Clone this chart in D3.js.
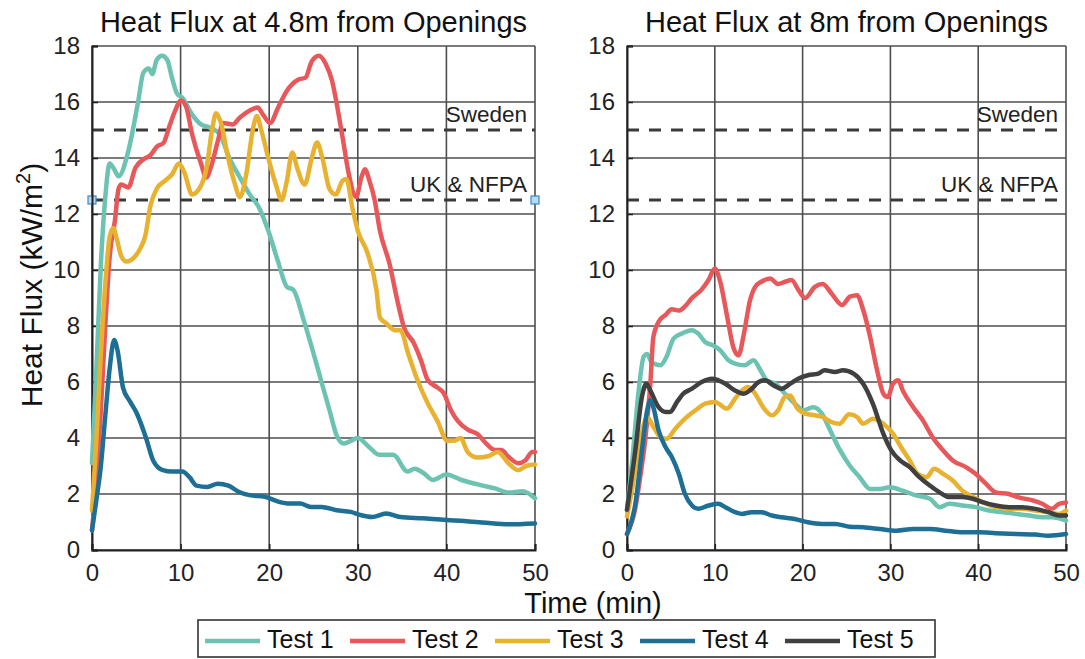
<!DOCTYPE html>
<html>
<head>
<meta charset="utf-8">
<script src="https://cdn.jsdelivr.net/npm/d3@7"></script>
<style>
  body { margin: 0; background: #fff; }
  svg { display: block; font-family: "Liberation Sans", Arial, sans-serif; }
</style>
</head>
<body>
<svg width="1085" height="659"></svg>
<script>
// values, [time (min), heat flux (kW/m2)]
const timeTicks = [0, 10, 20, 30, 40, 50];
const fluxTicks = [0, 2, 4, 6, 8, 10, 12, 14, 16, 18];
const testNames = ['Test 1', 'Test 2', 'Test 3', 'Test 4', 'Test 5'];
const testColors = ['#6cc3b1', '#e8585b', '#e8b130', '#1e6f96', '#404040'];
const limitLabels = ['Sweden', 'UK & NFPA'];
const limitValues = [15, 12.5];
const panelTitles = ['Heat Flux at 4.8m from Openings', 'Heat Flux at 8m from Openings'];

// 4.8 m
const t1At48 = [[0,3.1],[0.5,6.5],[1,10.2],[1.5,12.6],[2,13.8],[2.5,13.6],[3,13.35],[4.1,14.25],[5.2,16.0],[5.8,17.05],[6.4,17.2],[6.8,17.0],[7.3,17.5],[7.9,17.65],[8.5,17.5],[9.0,16.9],[9.6,16.3],[10.2,16.15],[11.3,15.55],[12.3,15.2],[13.2,15.1],[14.4,14.85],[15.5,14.0],[16.7,13.3],[17.8,12.7],[18.9,12.2],[19.9,11.4],[21,10.3],[22,9.4],[22.7,9.3],[23.9,8.2],[25.2,6.8],[25.9,6.0],[26.8,5.0],[27.6,4.1],[28.4,3.8],[29.2,3.9],[30,4.0],[31.2,3.7],[32.4,3.4],[34,3.4],[35.6,2.8],[36.4,2.9],[37.4,2.75],[38.5,2.5],[40,2.7],[41.7,2.5],[44.1,2.3],[45.5,2.2],[47,2.05],[48.6,2.1],[50,1.85]];
const t2At48 = [[0,0.7],[0.5,2.5],[1,5],[1.5,8],[2,10.5],[2.6,11.8],[3,12.9],[3.3,13.05],[4.1,12.95],[4.9,13.65],[5.8,13.95],[6.6,14.1],[7.3,14.4],[8.1,14.55],[8.7,15.1],[9.4,15.7],[10,16.05],[10.6,15.85],[11.3,14.85],[12.3,13.8],[12.9,13.3],[13.4,13.65],[14.2,14.6],[14.8,15.25],[15.9,15.2],[16.7,15.45],[17.8,15.7],[18.7,15.8],[19.3,15.55],[20.1,15.25],[21.0,15.8],[22,16.4],[23.3,16.8],[24.1,16.87],[24.8,17.45],[25.6,17.65],[26.4,17.35],[27.1,16.75],[27.7,15.8],[28.3,14.7],[29.0,13.4],[29.8,12.6],[30.4,13.3],[30.8,13.6],[31.3,13.2],[31.9,12.5],[32.5,11.4],[33.6,10.2],[34.4,9.0],[35.2,7.96],[36.3,7.4],[37.1,6.8],[37.9,6.07],[39.0,5.8],[39.7,5.6],[40.5,5.0],[41.3,4.6],[42.4,4.3],[43.5,4.14],[44.5,3.8],[45.5,3.57],[46.2,3.57],[47,3.33],[48.1,3.1],[48.9,3.2],[49.7,3.5],[50,3.5]];
const t3At48 = [[0,1.4],[0.5,4],[1,7],[1.5,9.5],[2.0,11.2],[2.4,11.5],[2.8,11.1],[3.3,10.5],[3.9,10.3],[4.9,10.5],[5.5,10.8],[6.0,11.2],[6.6,12.3],[7.3,12.9],[8.3,13.2],[9.0,13.4],[9.8,13.8],[10.4,13.5],[11.3,12.7],[12.1,12.9],[12.9,13.6],[13.6,15.1],[14.0,15.6],[14.6,15.2],[15.3,14.1],[16.1,13.1],[16.7,12.6],[17.4,13.4],[18.2,15.1],[18.6,15.5],[19.1,15.0],[19.9,14.0],[20.8,13.0],[21.4,12.5],[22.0,13.2],[22.6,14.2],[23.2,13.6],[24,13.05],[24.8,14.0],[25.4,14.55],[26.0,14.0],[26.8,12.9],[27.5,12.7],[28.3,13.2],[28.7,13.25],[29.4,12.2],[30,11.4],[31.1,10.6],[32.1,9.3],[32.5,8.3],[33.2,8.1],[34.2,7.85],[34.8,7.85],[35.7,7.0],[36.7,6.1],[37.8,5.3],[39.0,4.6],[40.1,3.9],[40.9,3.9],[41.6,4.0],[42.4,3.5],[43.5,3.3],[44.7,3.35],[45.8,3.5],[47,3.1],[48.1,2.85],[49,3.0],[50,3.05]];
const t4At48 = [[0,0.7],[0.5,1.8],[1,3],[1.5,4.8],[2,6.5],[2.5,7.5],[2.9,7.1],[3.5,5.8],[4.3,5.3],[5.1,4.85],[6.1,4.0],[6.9,3.2],[8.0,2.85],[9.0,2.8],[10.2,2.8],[11,2.6],[11.8,2.3],[13,2.25],[14.2,2.37],[15.4,2.3],[16.6,2.07],[17.9,1.95],[19.5,1.9],[21.1,1.72],[22.3,1.66],[23.5,1.66],[24.7,1.54],[25.9,1.54],[27.6,1.42],[29.2,1.36],[30.4,1.24],[31.6,1.18],[33.2,1.3],[34.8,1.18],[37.3,1.13],[40,1.07],[42,1.04],[44.5,0.97],[47,0.92],[50,0.95]];

// 8 m
const t1At8 = [[0,1.4],[0.6,3.2],[1.3,5.6],[1.9,6.9],[2.3,7.0],[2.8,6.7],[3.8,6.6],[4.5,6.9],[5.3,7.55],[6.25,7.73],[7.4,7.85],[8.1,7.73],[8.9,7.43],[9.85,7.3],[10.6,7.14],[11.55,6.78],[12.3,6.66],[13.4,6.6],[14.4,6.78],[15.2,6.42],[15.9,6.06],[16.9,5.94],[18,5.58],[19.1,5.23],[20.1,4.99],[21.2,5.1],[22.2,4.87],[23.1,4.3],[24.2,3.6],[25.4,3.0],[26.5,2.6],[27.7,2.18],[28.8,2.18],[29.9,2.24],[31.4,2.12],[32.9,1.95],[34.5,1.83],[35.6,1.53],[36.7,1.65],[38.2,1.59],[39.7,1.53],[41.2,1.41],[42.8,1.35],[44.3,1.29],[45.8,1.23],[47.3,1.17],[48.4,1.17],[50,1.05]];
const t2At8 = [[0,0.57],[0.95,1.5],[1.5,2.6],[2.1,4.0],[2.65,5.9],[3.0,7.6],[3.6,8.15],[4.4,8.4],[5.1,8.6],[5.9,8.55],[6.6,8.7],[7.4,9.0],[8.5,9.3],[9.3,9.65],[10.0,10.05],[10.6,9.6],[11.4,8.35],[12.1,7.25],[12.7,6.95],[13.3,7.7],[14.0,8.9],[14.6,9.4],[15.3,9.58],[16.3,9.7],[17.2,9.5],[18,9.58],[18.75,9.64],[19.5,9.3],[20.3,9.0],[21.4,9.4],[22.3,9.5],[23.3,9.16],[24.5,8.75],[25.4,9.05],[26.2,9.1],[26.9,8.57],[27.7,7.6],[28.4,6.54],[29.2,5.58],[29.7,5.46],[30.3,5.94],[30.9,6.06],[31.4,5.7],[32.6,5.1],[33.7,4.63],[34.8,4.03],[36,3.56],[37.1,3.2],[38.6,2.96],[39.7,2.72],[40.9,2.36],[42.0,2.06],[43.5,2.0],[44.6,1.88],[46.2,1.77],[47.3,1.65],[48.4,1.47],[49.2,1.65],[50,1.7]];
const t3At8 = [[0,1.2],[0.6,2.2],[1.3,3.56],[2.3,4.75],[3.0,4.4],[3.8,4.03],[4.5,3.97],[5.5,4.33],[6.6,4.69],[7.8,4.99],[8.9,5.23],[10.0,5.29],[11.4,5.05],[12.3,5.4],[13.1,5.7],[13.8,5.82],[14.6,5.58],[15.5,5.1],[16.5,4.81],[17.2,4.99],[18.0,5.47],[18.6,5.52],[19.3,5.1],[20.3,4.87],[21.4,4.81],[22.3,4.75],[23.3,4.57],[24.2,4.51],[25.3,4.85],[26.2,4.75],[26.9,4.51],[28.0,4.69],[29.2,4.51],[30.3,4.15],[31.2,3.68],[32.2,3.2],[33.1,2.72],[34.1,2.6],[35.0,2.9],[36.0,2.72],[37.1,2.48],[38.2,2.12],[39.4,1.89],[40.5,1.71],[42.0,1.53],[43.5,1.47],[45.0,1.47],[46.5,1.41],[48.0,1.35],[49.2,1.29],[50,1.41]];
const t4At8 = [[0,0.57],[0.95,1.65],[1.7,3.56],[2.3,4.99],[2.65,5.35],[3.0,5.1],[3.6,4.27],[4.4,3.67],[5.1,3.32],[5.9,2.72],[6.6,2.0],[7.4,1.59],[8.1,1.47],[9.3,1.59],[10.4,1.65],[11.2,1.53],[12.3,1.35],[13.1,1.29],[14.2,1.35],[15.3,1.35],[16.5,1.23],[17.6,1.17],[19.1,1.11],[20.6,0.99],[22.2,0.93],[23.7,0.93],[25.4,0.83],[26.9,0.81],[28.8,0.75],[30.7,0.69],[32.6,0.75],[34.5,0.75],[36.3,0.69],[38.2,0.63],[40.1,0.63],[42,0.6],[44.3,0.57],[46.5,0.55],[48,0.51],[50,0.57]];
const t5At8 = [[0,1.44],[0.95,3.56],[1.7,5.47],[2.2,5.94],[2.65,5.7],[3.6,5.1],[4.4,4.93],[4.9,4.93],[5.7,5.29],[6.4,5.58],[7.4,5.76],[8.5,6.0],[9.7,6.12],[10.4,6.06],[11.2,5.94],[12.3,5.7],[13.3,5.58],[14.0,5.7],[15.0,6.0],[15.7,6.06],[16.7,5.88],[17.6,5.76],[18.6,5.94],[19.5,6.12],[20.6,6.24],[21.8,6.3],[22.5,6.42],[23.7,6.36],[24.6,6.42],[25.8,6.3],[26.9,5.94],[28.0,5.23],[29.2,4.15],[30.1,3.56],[31.1,3.2],[32.2,2.96],[33.3,2.6],[34.5,2.3],[35.6,2.06],[36.7,1.89],[38.2,1.89],[39.4,1.83],[40.5,1.71],[42.0,1.59],[43.5,1.53],[45.0,1.53],[46.5,1.47],[48,1.35],[49.2,1.23],[50,1.23]];

const svg = d3.select('svg');
const y = d3.scaleLinear().domain([0, 18]).range([550, 46]);

const panels = [
  { title: panelTitles[0], x: d3.scaleLinear().domain([0, 50]).range([92, 535]),
    series: [[0, t1At48], [1, t2At48], [2, t3At48], [3, t4At48]], markers: true },
  { title: panelTitles[1], x: d3.scaleLinear().domain([0, 50]).range([627, 1066]),
    series: [[0, t1At8], [1, t2At8], [2, t3At8], [4, t5At8], [3, t4At8]], markers: false }
];

panels.forEach(function (p) {
  const g = svg.append('g');
  const x = p.x;
  const [x0, x1] = x.range();

  // grid
  g.selectAll('.vgrid').data(timeTicks).enter().append('line')
    .attr('x1', d => x(d)).attr('x2', d => x(d))
    .attr('y1', y(0)).attr('y2', y(18))
    .attr('stroke', '#4e4e4e').attr('stroke-width', 1.6);
  g.selectAll('.hgrid').data(fluxTicks).enter().append('line')
    .attr('x1', x0).attr('x2', x1)
    .attr('y1', d => y(d)).attr('y2', d => y(d))
    .attr('stroke', '#4e4e4e').attr('stroke-width', 1.6);

  // regulatory limits
  limitValues.forEach(function (v, i) {
    g.append('line')
      .attr('x1', x0).attr('x2', x1)
      .attr('y1', y(v)).attr('y2', y(v))
      .attr('stroke', '#3a3a3a').attr('stroke-width', 3)
      .attr('stroke-dasharray', '12,10');
    g.append('text')
      .attr('x', x1 - 8).attr('y', y(v) - 8)
      .attr('text-anchor', 'end')
      .attr('font-size', 22.5).attr('fill', '#222')
      .text(limitLabels[i]);
  });
  if (p.markers) {
    g.selectAll('.mk').data([0, 50]).enter().append('rect')
      .attr('x', d => x(d) - 4).attr('y', y(12.5) - 4)
      .attr('width', 8).attr('height', 8)
      .attr('fill', '#b5dcf5').attr('stroke', '#3f86c6').attr('stroke-width', 1.2);
  }

  // axes
  const xAxis = d3.axisBottom(x).tickValues(timeTicks).tickSize(-6).tickPadding(14);
  const yAxis = d3.axisLeft(y).tickValues(fluxTicks).tickSize(-6).tickPadding(12);
  const gx = g.append('g').attr('transform', `translate(0,${y(0)})`).call(xAxis);
  const gy = g.append('g').attr('transform', `translate(${x0},0)`).call(yAxis);
  [gx, gy].forEach(function (a) {
    a.select('.domain').attr('stroke', '#222').attr('stroke-width', 2);
    a.selectAll('.tick line').attr('stroke', '#222').attr('stroke-width', 1.6);
    a.selectAll('.tick text').attr('font-size', 24).attr('fill', '#222')
      .attr('font-family', '"Liberation Sans", Arial, sans-serif');
  });
  gx.selectAll('.tick text').attr('dy', '0.71em');

  // data lines
  const line = d3.line().x(d => x(d[0])).y(d => y(d[1])).curve(d3.curveMonotoneX);
  p.series.forEach(function (s) {
    g.append('path')
      .attr('d', line(s[1]))
      .attr('fill', 'none')
      .attr('stroke', testColors[s[0]])
      .attr('stroke-width', 4.5)
      .attr('stroke-linejoin', 'round')
      .attr('stroke-linecap', 'round');
  });

  g.append('text')
    .attr('x', (x0 + x1) / 2).attr('y', 32)
    .attr('text-anchor', 'middle')
    .attr('font-size', 29).attr('fill', '#111')
    .text(p.title);
});

// shared labels
const yl = svg.append('text')
  .attr('transform', 'translate(42,285) rotate(-90)')
  .attr('text-anchor', 'middle')
  .attr('font-size', 30).attr('fill', '#111');
yl.append('tspan').text('Heat Flux (kW/m');
yl.append('tspan').attr('font-size', 20).attr('dy', -12).text('2');
yl.append('tspan').attr('dy', 12).text(')');

svg.append('text')
  .attr('x', 593).attr('y', 613)
  .attr('text-anchor', 'middle')
  .attr('font-size', 29).attr('fill', '#111')
  .text('Time (min)');

// legend
const legend = svg.append('g');
legend.append('rect')
  .attr('x', 198).attr('y', 620).attr('width', 737).attr('height', 37)
  .attr('fill', '#fff').attr('stroke', '#333').attr('stroke-width', 1.6);
testNames.forEach(function (name, i) {
  const lx = 205 + i * 145;
  legend.append('line')
    .attr('x1', lx).attr('x2', lx + 55)
    .attr('y1', 641).attr('y2', 641)
    .attr('stroke', testColors[i]).attr('stroke-width', 4.5);
  legend.append('text')
    .attr('x', lx + 62).attr('y', 648)
    .attr('font-size', 25).attr('fill', '#111')
    .text(name);
});
</script>
</body>
</html>
